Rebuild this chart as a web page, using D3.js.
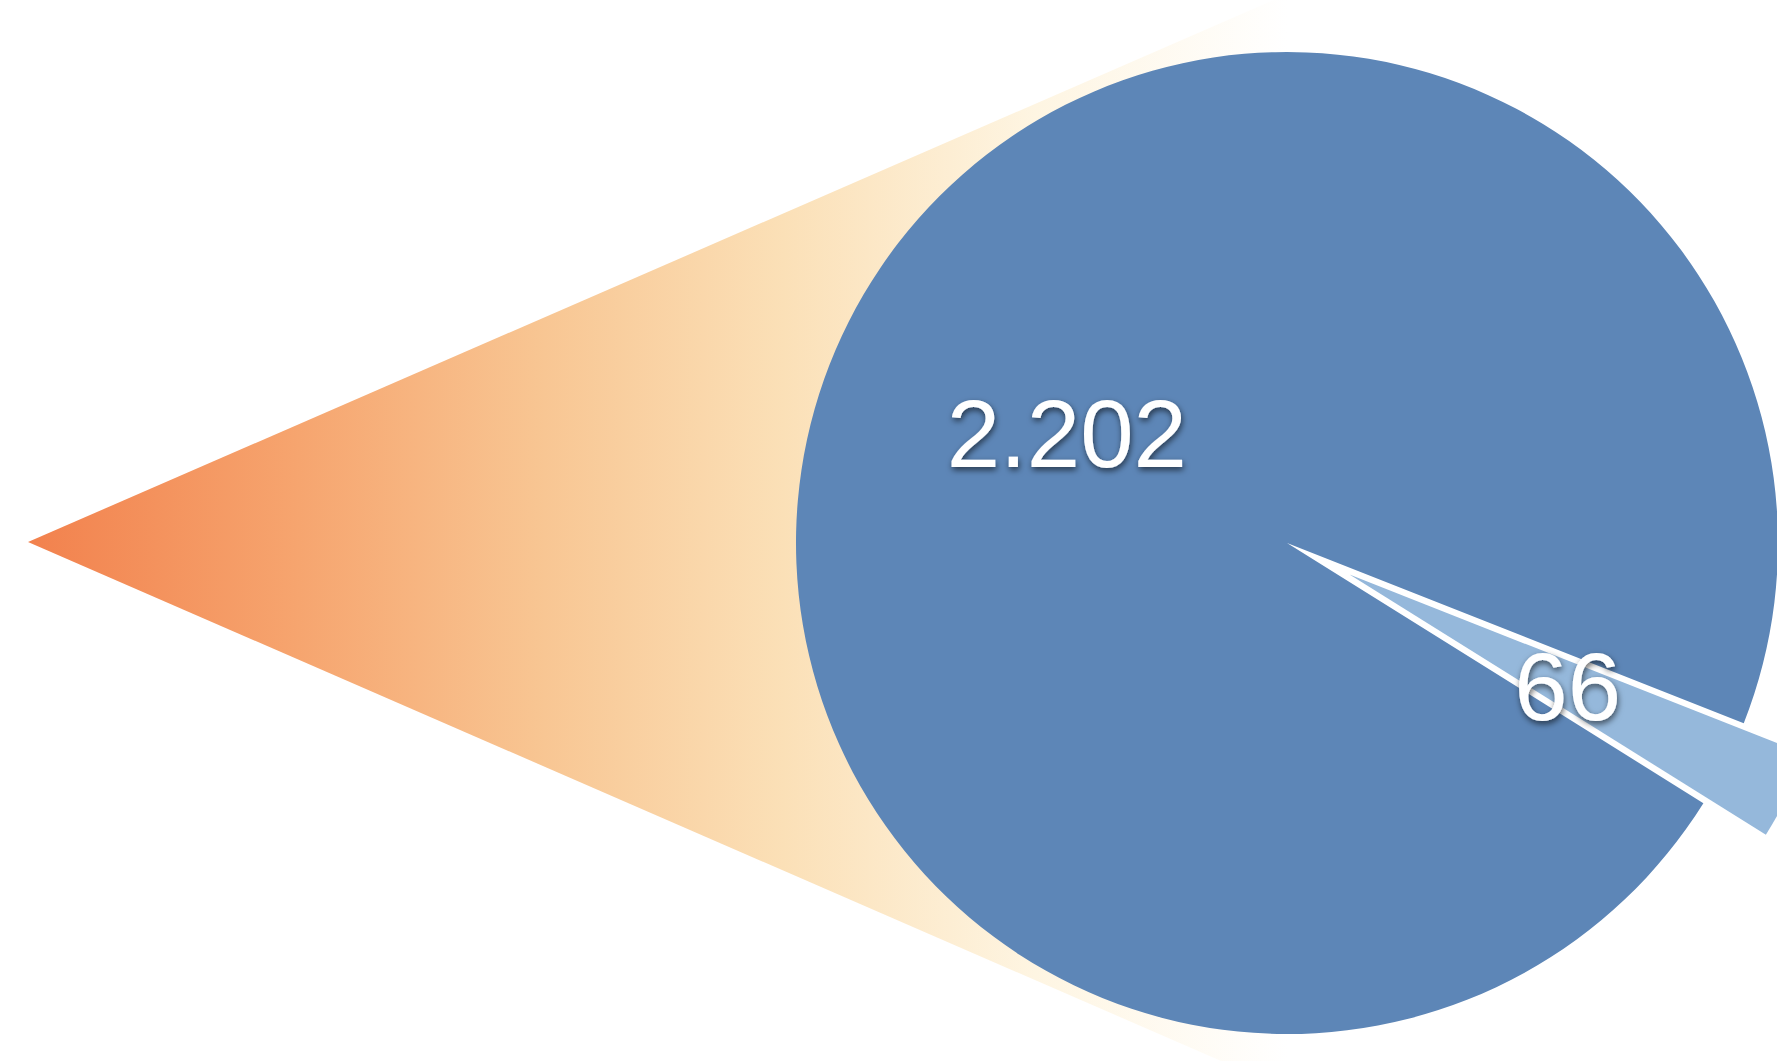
<!DOCTYPE html>
<html>
  <head>
    <meta charset="utf-8">
    <title>Pie</title>
    <script src="https://d3js.org/d3.v7.min.js"></script>
    <style>
      html, body { margin: 0; padding: 0; background: #fff; overflow: hidden; }
      text { font-family: "Liberation Sans", Arial, Helvetica, sans-serif; }
    </style>
  </head>
  <body>
    <script>
      // data
      const categories = ["A", "B"];
      const values = [2202, 66];
      const colors = ["#5d86b7", "#95b8db"];

      const width = 1777, height = 1061;
      const center = { x: 1287, y: 543 };
      const radius = 491;
      const explode = 70;          // offset of the small slice
      const apex = { x: 28, y: 542 }; // tip of the cone on the left

      const deg = Math.PI / 180;

      const svg = d3.select("body")
        .append("svg")
        .attr("width", width)
        .attr("height", height);

      const defs = svg.append("defs");

      // gradient of the cone: orange at the tip, fading out to white
      const grad = defs.append("linearGradient")
        .attr("id", "cone")
        .attr("gradientUnits", "userSpaceOnUse")
        .attr("x1", apex.x).attr("y1", 0)
        .attr("x2", center.x).attr("y2", 0);
      [[0, "#f2814d"], [0.21, "#f6a46e"], [0.41, "#f8c693"], [0.6, "#fbe0b7"],
       [0.8, "#fef5e2"], [1, "#ffffff"]].forEach(s => {
        grad.append("stop").attr("offset", s[0]).attr("stop-color", s[1]);
      });

      const shadow = defs.append("filter")
        .attr("id", "shadow")
        .attr("x", "-20%").attr("y", "-20%")
        .attr("width", "140%").attr("height", "140%");
      shadow.append("feDropShadow")
        .attr("dx", 1).attr("dy", 3)
        .attr("stdDeviation", 3)
        .attr("flood-color", "#000")
        .attr("flood-opacity", 0.6);

      // cone behind the pie
      const slope = 0.435;
      const coneLen = center.x - apex.x;
      svg.append("path")
        .attr("d", d3.line()([
          [apex.x, apex.y],
          [center.x, apex.y - coneLen * slope],
          [center.x, apex.y + coneLen * slope]
        ]) + "Z")
        .attr("fill", "url(#cone)");

      // pie
      const start = 122 * deg;
      const pie = d3.pie()
        .sort(null)
        .startAngle(start)
        .endAngle(start + 2 * Math.PI);
      const arcs = pie(values);

      const arc = d3.arc().innerRadius(0).outerRadius(radius);

      const offset = (d, i) => {
        if (i === 0) return [0, 0];
        const a = (d.startAngle + d.endAngle) / 2;
        return [Math.sin(a) * explode, -Math.cos(a) * explode];
      };

      const g = svg.append("g")
        .attr("transform", "translate(" + center.x + "," + center.y + ")");

      g.selectAll("path.slice")
        .data(arcs)
        .enter()
        .append("path")
        .attr("class", "slice")
        .attr("transform", (d, i) => "translate(" + offset(d, i) + ")")
        .attr("d", arc)
        .attr("fill", (d, i) => colors[i]);

      // labels
      const fmt = d3.formatLocale({ decimal: ",", thousands: ".", grouping: [3], currency: ["", "€"] }).format(",");

      g.selectAll("text.label")
        .data(arcs)
        .enter()
        .append("text")
        .attr("class", "label")
        .attr("transform", (d, i) => {
          const c = arc.centroid(d), o = offset(d, i);
          return "translate(" + (c[0] + o[0] - 1) + "," + (c[1] + o[1]) + ")";
        })
        .attr("text-anchor", "middle")
        .attr("dy", "0.36em")
        .attr("font-size", 96)
        .attr("fill", "#fff")
        .attr("filter", "url(#shadow)")
        .text(d => fmt(d.data));
    </script>
  </body>
</html>
